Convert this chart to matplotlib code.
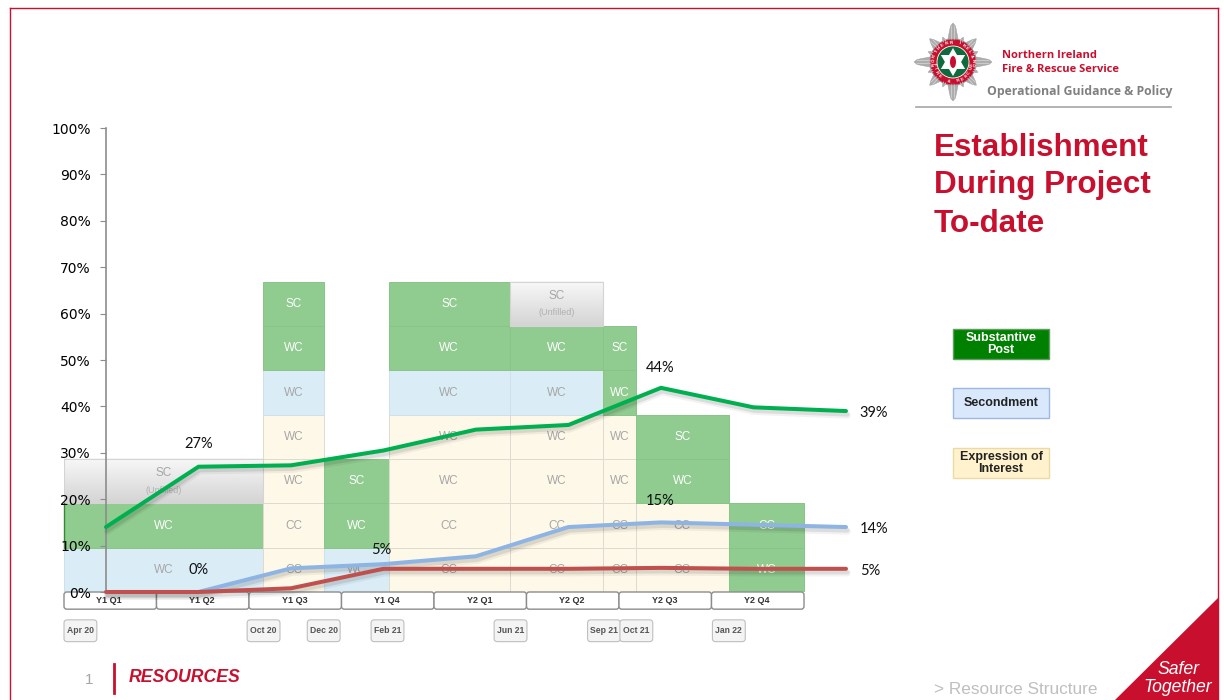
import numpy as np
import matplotlib
matplotlib.use("Agg")
import matplotlib.pyplot as plt
import matplotlib.patheffects as pe
from matplotlib.patches import Rectangle, FancyBboxPatch, Circle, Polygon, Ellipse

RED = "#C8102E"
GREEN = "#90CB90"
BLUE = "#DAEDF7"
CREAM = "#FEF8E8"

# x axis runs in quarters, counted from the start of Y1 Q1
quarters = ["Y1 Q1", "Y1 Q2", "Y1 Q3", "Y1 Q4", "Y2 Q1", "Y2 Q2", "Y2 Q3", "Y2 Q4"]
date_labels = ["Apr 20", "Oct 20", "Dec 20", "Feb 21", "Jun 21", "Sep 21", "Oct 21", "Jan 22"]
date_pos = [0.0, 1.98, 2.63, 3.32, 4.65, 5.66, 6.01, 7.01]

# staffing blocks: column edges and the grades stacked bottom to top
col_edges = [0.0, 2.15, 2.81, 3.51, 4.82, 5.83, 6.18, 7.19, 8.0]
cell_h = 9.55
col_cells = [
    [("s", "WC"), ("g", "WC"), ("u", "SC")],
    [("e", "CC"), ("e", "CC"), ("e", "WC"), ("e", "WC"), ("s", "WC"), ("g", "WC"), ("g", "SC")],
    [("s", "WC"), ("g", "WC"), ("g", "SC")],
    [("e", "CC"), ("e", "CC"), ("e", "WC"), ("e", "WC"), ("s", "WC"), ("g", "WC"), ("g", "SC")],
    [("e", "CC"), ("e", "CC"), ("e", "WC"), ("e", "WC"), ("s", "WC"), ("g", "WC"), ("u", "SC")],
    [("e", "CC"), ("e", "CC"), ("e", "WC"), ("e", "WC"), ("g", "WC"), ("g", "SC")],
    [("e", "CC"), ("e", "CC"), ("g", "WC"), ("g", "SC")],
    [("g", "WC"), ("g", "CC")],
]

# percentage lines, one point per quarter
line_x = [0.454, 1.454, 2.454, 3.454, 4.454, 5.454, 6.454, 7.454, 8.454]
substantive = [14, 27, 27.3, 30.5, 35, 36, 44, 39.8, 39]
secondment = [0, 0, 5.1, 6, 7.7, 14, 15, 14.5, 14]
interest = [0, 0, 0.8, 5, 5, 5, 5.2, 5, 5]

yticks = list(range(0, 101, 10))

fig = plt.figure(figsize=(12.24, 7), dpi=100, facecolor="white")

# page furniture, in pixels from the top left
page = fig.add_axes([0, 0, 1, 1], zorder=0)
page.set_xlim(0, 1224)
page.set_ylim(700, 0)
page.axis("off")

page.plot([10, 10], [8, 700], color=RED, lw=1.0)
page.plot([10, 1218], [8, 8], color=RED, lw=1.0)
page.plot([1218, 1218], [8, 700], color=RED, lw=1.0)

# fire service badge
cx, cy = 953, 62
for i in range(16):
    a = i * np.pi / 8
    r = 39 if i % 4 == 0 else (33 if i % 2 == 0 else 27)
    w = 0.3
    page.add_patch(Polygon([(cx + 20 * np.cos(a - w), cy + 20 * np.sin(a - w)),
                            (cx + (r - 3) * np.cos(a - 0.07), cy + (r - 3) * np.sin(a - 0.07)),
                            (cx + r * np.cos(a), cy + r * np.sin(a)),
                            (cx + (r - 3) * np.cos(a + 0.07), cy + (r - 3) * np.sin(a + 0.07)),
                            (cx + 20 * np.cos(a + w), cy + 20 * np.sin(a + w))],
                           fc="#ADADAD", ec="#999999", lw=0.3))
    for off in (-0.05, 0.05):
        page.plot([cx + 22 * np.cos(a + off), cx + (r - 3) * np.cos(a + off)],
                  [cy + 22 * np.sin(a + off), cy + (r - 3) * np.sin(a + off)], color="#E4E4E4", lw=0.4)
page.add_patch(Circle((cx, cy), 23, fc=RED, ec="#8C8C8C", lw=0.5))
page.add_patch(Circle((cx, cy), 16, fc="#0F6B3C", ec="white", lw=0.6))
for rot in (90, 270):
    pts = [(cx + 14 * np.cos(np.radians(rot + k * 120)), cy - 14 * np.sin(np.radians(rot + k * 120)))
           for k in range(3)]
    page.add_patch(Polygon(pts, fc="white", ec="none"))
page.add_patch(Ellipse((cx, cy), 6, 12, fc=RED, ec="none"))
for i, ch in enumerate("NORTHERN IRELAND"):
    deg = 90 + (7.5 - i) * 13
    page.text(cx + 19.5 * np.cos(np.radians(deg)), cy - 19.5 * np.sin(np.radians(deg)), ch,
              fontsize=3.2, color="white", ha="center", va="center", rotation=deg - 90,
              family="Liberation Sans", fontweight="bold")
for i, ch in enumerate("FIRE & RESCUE"):
    deg = 270 + (i - 6) * 14
    page.text(cx + 19.5 * np.cos(np.radians(deg)), cy - 19.5 * np.sin(np.radians(deg)), ch,
              fontsize=3.2, color="white", ha="center", va="center", rotation=deg + 90,
              family="Liberation Sans", fontweight="bold")

page.text(1002, 56, "Northern Ireland", color=RED, fontsize=8, fontweight="bold", va="center", family="Open Sans")
page.text(1002, 70, "Fire & Rescue Service", color=RED, fontsize=8, fontweight="bold", va="center", family="Open Sans")
page.text(987, 91.5, "Operational Guidance & Policy", color="#808080", fontsize=8.8, fontweight="bold", va="center", family="Open Sans")
page.plot([916, 1171], [107, 107], color="#A6A6A6", lw=1.2)

for i, line in enumerate(["Establishment", "During Project", "To-date"]):
    page.text(934, 147.5 + i * 38, line, color=RED, fontsize=22.6, fontweight="bold", va="center", family="Liberation Sans")

# key
key_boxes = [(329, "#008000", "#5E9E5E", "white", "Substantive\nPost"),
             (388, "#DAE8FC", "#9DB8DF", "#222222", "Secondment"),
             (448, "#FFF2CC", "#EBD9A6", "#222222", "Expression of\nInterest")]
for top, fc, ec, tc, label in key_boxes:
    page.add_patch(Rectangle((953, top), 96, 30, fc=fc, ec=ec, lw=1))
    page.text(1001, top + 15, label, color=tc, fontsize=9, fontweight="bold", ha="center", va="center",
              family="Liberation Sans", linespacing=1.1)

# footer
page.text(89, 680, "1", color="#A6A6A6", fontsize=11, ha="center", va="center", family="Liberation Sans")
page.plot([113.5, 113.5], [664, 693], color=RED, lw=2)
page.text(129, 677, "RESOURCES", color=RED, fontsize=12.7, fontweight="bold", style="italic", va="center", family="Liberation Sans")
page.text(934, 689, "> Resource Structure", color="#BFBFBF", fontsize=12.4, va="center", family="Liberation Sans")
page.add_patch(Polygon([(1115, 700), (1218, 598), (1218, 700)], fc=RED, ec="none"))
page.text(1178, 670, "Safer", color="white", fontsize=12.7, style="italic", ha="center", va="center", family="Liberation Sans")
page.text(1178, 688, "Together", color="white", fontsize=12.7, style="italic", ha="center", va="center", family="Liberation Sans")

# chart, 92.5 px per quarter and 4.64 px per percentage point
ax = fig.add_axes([64 / 1224, 108 / 700, 836 / 1224, 464 / 700], zorder=1)
ax.patch.set_alpha(0)
xlim = (0, 836 / 92.5)
ylim = (0, 100)

grad = np.linspace(0.97, 0.83, 64).reshape(-1, 1)
for c, cells in enumerate(col_cells):
    x0, x1 = col_edges[c], col_edges[c + 1]
    for k, (kind, grade) in enumerate(cells):
        y0 = k * cell_h
        xm = (x0 + x1) / 2
        ym = y0 + cell_h / 2
        if kind == "u":
            ax.imshow(grad, extent=(x0, x1, y0, y0 + cell_h), cmap="gray", vmin=0, vmax=1,
                      aspect="auto", zorder=1, origin="upper")
            ax.add_patch(Rectangle((x0, y0), x1 - x0, cell_h, fc="none", ec="#D4D4D4", lw=0.8, zorder=1.1))
            ax.text(xm, ym + 1.7, grade, color="#A6A6A6", fontsize=8.5, ha="center", va="center", zorder=1.5, family="Liberation Sans")
            ax.text(xm, ym - 1.9, "(Unfilled)", color="#B0B0B0", fontsize=6.5, ha="center", va="center", zorder=1.5, family="Liberation Sans")
            continue
        fc = {"g": GREEN, "s": BLUE, "e": CREAM}[kind]
        ec = {"g": "#88C488", "s": "#CFE0EA", "e": "#DEDAD0"}[kind]
        tc = "white" if kind == "g" else "#A6A6A6"
        ax.add_patch(Rectangle((x0, y0), x1 - x0, cell_h, fc=fc, ec=ec, lw=0.7, zorder=1))
        ax.text(xm, ym, grade, color=tc, fontsize=8.5, ha="center", va="center", zorder=1.5, family="Liberation Sans")

ax.plot([0, 0], [cell_h, 2 * cell_h], color="#2E8B2E", lw=1, zorder=1.2, clip_on=False)

# quarter strip and date chips under the axis
for i, q in enumerate(quarters):
    ax.add_patch(FancyBboxPatch((i, -3.7), 1, 3.7, boxstyle="round,pad=0,rounding_size=0.03",
                                mutation_aspect=92.5 / 4.64, fc="white", ec="#8C8C8C", lw=1,
                                clip_on=False, zorder=1.3))
    ax.text(i + 0.49, -1.75, q, fontsize=6.5, fontweight="bold", color="#333333", ha="center", va="center",
            family="Liberation Sans", zorder=1.4, clip_on=False)
for x, label in zip(date_pos, date_labels):
    ax.add_patch(FancyBboxPatch((x, -10.7), 0.355, 4.7, boxstyle="round,pad=0,rounding_size=0.035",
                                mutation_aspect=92.5 / 4.64, fc="#F4F4F4", ec="#BFBFBF", lw=0.8,
                                clip_on=False))
    ax.text(x + 0.177, -8.35, label, fontsize=6.2, fontweight="bold", color="#555555", ha="center", va="center",
            family="Liberation Sans", clip_on=False)

# lines with a soft drop shadow
shadow = [pe.SimpleLineShadow(offset=(1, -3), alpha=0.05, shadow_color="black", linewidth=5),
          pe.SimpleLineShadow(offset=(1, -2.5), alpha=0.09, shadow_color="black", linewidth=3),
          pe.Normal()]
for ys, col in [(substantive, "#00B050"), (secondment, "#8EB4E3"), (interest, "#C0504D")]:
    ax.plot(line_x, ys, color=col, lw=2.9, zorder=3, clip_on=False, path_effects=shadow,
            solid_joinstyle="miter", solid_capstyle="round")

# point labels: series, index, pixel offset
point_labels = [(substantive, 1, 0, 23), (substantive, 6, -1, 20), (substantive, 8, 28, -2),
                (secondment, 1, 0, 22), (secondment, 6, -1, 21), (secondment, 8, 28, -2),
                (interest, 3, -2, 19), (interest, 8, 24, -2)]
for ys, i, dx, dy in point_labels:
    ax.annotate(f"{ys[i]:.0f}%", (line_x[i], ys[i]), xytext=(dx * 0.72, dy * 0.72), textcoords="offset points",
                ha="center", va="center", fontsize=10.5, color="#111111", family="Lato", zorder=4,
                annotation_clip=False)

ax.set_xlim(*xlim)
ax.set_ylim(*ylim)
ax.set_xticks([])
ax.set_yticks(yticks)
ax.set_yticklabels([f"{t}%" for t in yticks], fontsize=10.5, color="#111111", family="Lato")
ax.spines["left"].set_position(("data", line_x[0]))
ax.spines["left"].set_color("#8C8C8C")
ax.spines["left"].set_linewidth(1.2)
ax.spines["left"].set_zorder(2.5)
for s in ("top", "right", "bottom"):
    ax.spines[s].set_visible(False)
ax.tick_params(axis="y", length=4, width=0.8, color="#8C8C8C", pad=7)
for t in ax.get_yticklabels():
    t.set_zorder(5)

fig.savefig("out.png", dpi=100)
